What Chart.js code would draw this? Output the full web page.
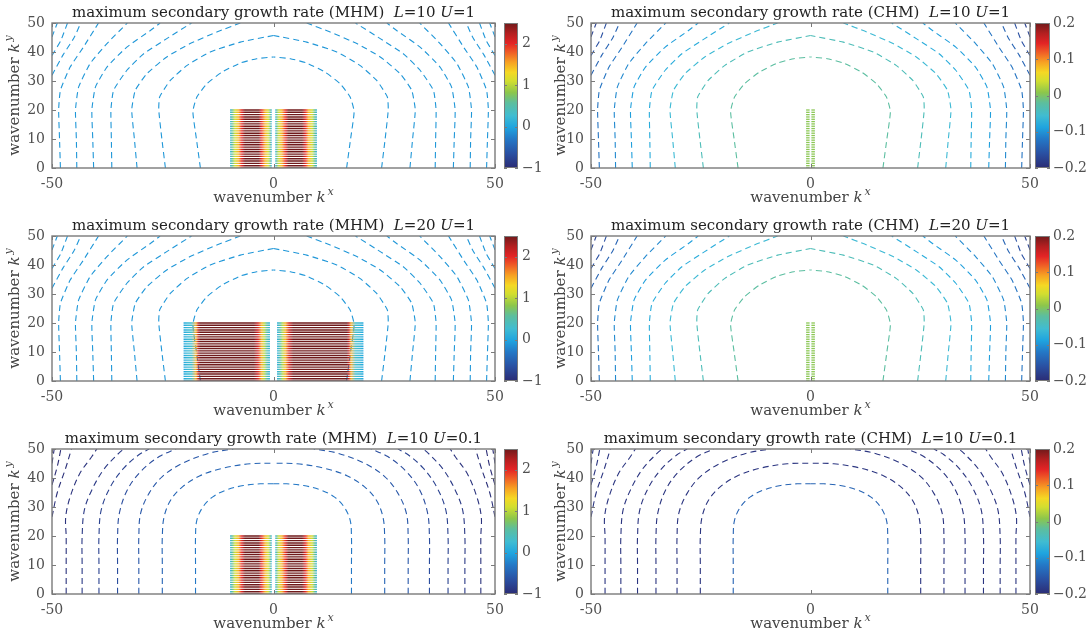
<!DOCTYPE html>
<html>
<head>
<meta charset="utf-8">
<script src="https://cdn.jsdelivr.net/npm/chart.js@4.4.1/dist/chart.umd.min.js"></script>
<style>
  html, body { margin: 0; padding: 0; background: #fff; overflow: hidden; }
  #wrap { position: relative; width: 1092px; height: 636px; }
  .panel { position: absolute; }
</style>
</head>
<body>
<div id="wrap"></div>
<script>
// ---- data ----
const kxTicks = [-50, 0, 50];
const kyTicks = [0, 10, 20, 30, 40, 50];
const mhmRange = [-1, 2.5];
const mhmBarTicks = [-1, 0, 1, 2];
const chmRange = [-0.2, 0.2];
const chmBarTicks = [-0.2, -0.1, 0, 0.1, 0.2];

const panelModel = ['MHM', 'CHM', 'MHM', 'CHM', 'MHM', 'CHM'];
const panelL = ['10', '10', '20', '20', '10', '10'];
const panelU = ['1', '1', '1', '1', '0.1', '0.1'];

// contour lines, left half (kx <= 0), innermost first; right half is the mirror
const contoursU1 = [
  [[-16.5, 0], [-17.4, 10], [-18.2, 19.5], [-17.3, 24.5], [-15, 29.1], [-11.6, 33.1], [-7.5, 36.2], [-3.8, 37.7], [0, 38.3]],
  [[-24.4, 0], [-25.2, 10], [-25.9, 20], [-25.7, 24.5], [-23.3, 30.2], [-19.5, 35.4], [-14.3, 40], [-7.5, 43.4], [0, 45.7]],
  [[-30.8, 0], [-31.4, 10], [-32, 20], [-31.2, 26.8], [-28.6, 32.5], [-24.1, 38.3], [-18.8, 42.9], [-12.8, 46.9], [-7.5, 50]],
  [[-36.5, 0], [-36.6, 10], [-36.7, 20], [-36.1, 26.8], [-33.1, 33.7], [-29.3, 39.4], [-24.1, 44.6], [-18.5, 50]],
  [[-40.6, 0], [-40.8, 10], [-41, 20], [-40.2, 27.9], [-37.6, 34.8], [-33.1, 41.7], [-27.8, 47.4], [-25.6, 50]],
  [[-44.4, 0], [-44.5, 10], [-44.7, 20], [-44, 27.9], [-41.4, 36], [-37.6, 42.9], [-33, 50]],
  [[-48.1, 0], [-48.3, 10], [-48.5, 20], [-48.1, 26.8], [-45.9, 34.8], [-42.9, 41.7], [-39.5, 50]],
  [[-50, 32], [-47.5, 39], [-45, 45], [-43.5, 50]],
  [[-50, 38.8], [-48, 44], [-46.5, 50]],
  [[-50, 45.2], [-48.8, 50]]
];
const contoursU01 = [
  [[-17.6, 0], [-17.6, 10], [-17.6, 19.7], [-17.3, 25.5], [-15.9, 30.1], [-13.7, 33.5], [-10.6, 35.9], [-6.8, 37.4], [-3, 38], [0, 38]],
  [[-25.1, 0], [-25.1, 10], [-25.1, 19.7], [-24.7, 26.6], [-23.2, 32.4], [-20.5, 37], [-16.7, 40.7], [-11.4, 43.4], [-5.3, 44.9], [0, 45.1]],
  [[-30.4, 0], [-30.4, 10], [-30.4, 19.7], [-30, 27.8], [-28.1, 34.7], [-25.1, 40.5], [-20.5, 45.1], [-14.4, 48.6], [-9.1, 50]],
  [[-35.2, 0], [-35.2, 10], [-35.2, 19.7], [-34.8, 27.8], [-33, 35.9], [-30, 42.2], [-25.8, 47.4], [-22, 50]],
  [[-39.4, 0], [-39.4, 10], [-39.4, 19.7], [-38.9, 28.9], [-36.8, 37], [-33.8, 43.4], [-30.4, 48], [-28.1, 50]],
  [[-43.2, 0], [-43.2, 10], [-43.2, 19.7], [-42.7, 28.9], [-41, 35.9], [-38.3, 43], [-34.9, 48.6], [-33.8, 50]],
  [[-46.8, 0], [-46.8, 10], [-46.8, 19.7], [-46.9, 26.6], [-45.9, 33.5], [-43.7, 41.6], [-41, 47.4], [-39.9, 50]],
  [[-50, 26.6], [-48.8, 35], [-47, 43], [-45.6, 50]],
  [[-50, 37.6], [-48.8, 44], [-48, 50]],
  [[-50, 45], [-49.5, 50]]
];

// contour levels in each panel's colour units (innermost first)
const levelsMhmU1 = [-0.1, -0.1, -0.1, -0.1, -0.1, -0.1, -0.1, -0.1, -0.1, -0.1];
const levelsChmU1 = [-0.022, -0.038, -0.06, -0.078, -0.092, -0.108, -0.124, -0.14, -0.16, -0.176];
const levelsMhmU01 = [-0.3, -0.47, -0.58, -0.68, -0.79, -0.86, -0.93, -0.96, -1, -1];
const levelsChmU01 = [-0.14, -0.19, -0.19, -0.19, -0.19, -0.19, -0.19, -0.19, -0.19, -0.19];

// growth-rate stripes: rows in ky, profile along kx (left block; right block mirrored)
const stripeKy = [0, 0.8, 1.6, 2.4, 3.2, 4, 4.8, 5.6, 6.4, 7.2, 8, 8.8, 9.6, 10.4, 11.2, 12,
  12.8, 13.6, 14.4, 15.2, 16, 16.8, 17.6, 18.4, 19.2, 20];
const mhmL10Kx = [-9.8, -9.3, -8.7, -7.9, -7.2, -6.4, -5, -3.4, -2.7, -1.9, -1.2, -0.4];
const mhmL10Rate = [0.1, 0.6, 1.1, 1.5, 2.0, 2.5, 2.5, 2.5, 2.0, 1.5, 1.1, 0.1];
const mhmL20Kx = [-20.3, -19.5, -18.5, -17.5, -17, -16.5, -10, -4.5, -3.5, -2.7, -2.1, -1.5, -0.8];
const mhmL20Rate = [0, 0.2, 0.3, 1.5, 2.2, 2.5, 2.5, 2.5, 2.1, 1.5, 1.0, 0.5, 0.1];
const chmKx = [-1.0, -0.6, -0.2];
const chmRate = [0.0, 0.012, 0.0];

// ---- styling ----
const serif = '"DejaVu Serif", serif';
const cmapStops = [[0, '#2b2c74'], [0.1, '#2a50a2'], [0.2, '#2478c6'], [0.28, '#1fa4df'], [0.36, '#40bcd2'],
  [0.45, '#5dbe9d'], [0.52, '#8cc64c'], [0.6, '#d2de30'], [0.66, '#f5d824'], [0.73, '#f7a023'],
  [0.8, '#ef5b26'], [0.86, '#e32425'], [0.93, '#b21f20'], [1, '#6f1a1b']];
const boxColor = '#7a7a7a';
const tickColor = '#505050';

function hexRgb(h) {
  return [parseInt(h.slice(1, 3), 16), parseInt(h.slice(3, 5), 16), parseInt(h.slice(5, 7), 16)];
}
function cmap(p) {
  p = Math.max(0, Math.min(1, p));
  for (let i = 1; i < cmapStops.length; i++) {
    if (p <= cmapStops[i][0]) {
      const [p0, c0] = cmapStops[i - 1], [p1, c1] = cmapStops[i];
      const t = (p - p0) / (p1 - p0), a = hexRgb(c0), b = hexRgb(c1);
      return 'rgb(' + a.map((v, k) => Math.round(v + (b[k] - v) * t)).join(',') + ')';
    }
  }
  return cmapStops[cmapStops.length - 1][1];
}
function fmtMinus(v) {
  return v < 0 ? '\u2212' + String(Math.abs(v)) : String(v);
}

const colGeom = [
  { left: 0, yW: 52, cbW: 51, gap: 9, cbWidth: 14, cbPad: 27 },
  { left: 546, yW: 45, cbW: 62, gap: 5, cbWidth: 15, cbPad: 23 }
];

function fontOf(p, size) {
  return (p.it ? 'italic ' : '') + (p.sup ? Math.round(size * 0.72) : size) + 'px ' + serif;
}
function richWidth(ctx, parts, size) {
  let w = 0;
  parts.forEach(p => { ctx.font = fontOf(p, size); w += ctx.measureText(p.t).width + (p.dx || 0); });
  return w;
}
function drawRich(ctx, parts, x, y, size) {
  parts.forEach(p => {
    ctx.font = fontOf(p, size);
    x += p.dx || 0;
    ctx.fillText(p.t, x, y - (p.sup ? size * 0.45 : 0));
    x += ctx.measureText(p.t).width;
  });
}

function stripeDatasets(kx, rate, range, width) {
  const sets = [];
  const blocks = [
    { kx: kx, rate: rate },
    { kx: kx.map(v => -v).reverse(), rate: rate.slice().reverse() }
  ];
  blocks.forEach(b => {
    let cache = null;
    const color = (c) => {
      const chart = c.chart;
      if (!chart.chartArea || !chart.scales.x) return cmap(0.5);
      if (cache) return cache;
      const xs = chart.scales.x;
      const x0 = xs.getPixelForValue(b.kx[0]), x1 = xs.getPixelForValue(b.kx[b.kx.length - 1]);
      const g = chart.ctx.createLinearGradient(x0, 0, x1, 0);
      b.kx.forEach((k, j) => {
        g.addColorStop((xs.getPixelForValue(k) - x0) / (x1 - x0), cmap((b.rate[j] - range[0]) / (range[1] - range[0])));
      });
      cache = g;
      return g;
    };
    stripeKy.forEach(ky => {
      sets.push({
        data: [{ x: b.kx[0], y: ky }, { x: b.kx[b.kx.length - 1], y: ky }],
        borderColor: color, borderWidth: width, borderCapStyle: 'butt',
        pointRadius: 0, fill: false, order: 0
      });
    });
  });
  return sets;
}

function contourDatasets(lines, levels, range, tension) {
  const sets = [];
  lines.forEach((line, i) => {
    const col = cmap((levels[i] - range[0]) / (range[1] - range[0]));
    [line, line.map(([x, y]) => [-x, y])].forEach(half => {
      sets.push({
        data: half.map(([x, y]) => ({ x, y })),
        borderColor: col, borderWidth: 1.1, borderDash: [6, 4],
        pointRadius: 0, fill: false, tension: tension, order: 1
      });
    });
  });
  return sets;
}

const wrap = document.getElementById('wrap');

for (let i = 0; i < 6; i++) {
  const row = Math.floor(i / 2), col = i % 2;
  const g = colGeom[col];
  const isMhm = panelModel[i] === 'MHM';
  const range = isMhm ? mhmRange : chmRange;
  const barTicks = isMhm ? mhmBarTicks : chmBarTicks;
  const isU1 = panelU[i] === '1';
  const levels = isMhm ? (isU1 ? levelsMhmU1 : levelsMhmU01) : (isU1 ? levelsChmU1 : levelsChmU01);

  let datasets = contourDatasets(isU1 ? contoursU1 : contoursU01, levels, range, isU1 ? 0.15 : 0.35);
  if (isMhm) {
    datasets = datasets.concat(panelL[i] === '20'
      ? stripeDatasets(mhmL20Kx, mhmL20Rate, range, 1.4)
      : stripeDatasets(mhmL10Kx, mhmL10Rate, range, 1.4));
  } else if (isU1) {
    datasets = datasets.concat(stripeDatasets(chmKx, chmRate, range, 1.3));
  }

  const div = document.createElement('div');
  div.className = 'panel';
  div.style.left = g.left + 'px';
  div.style.top = (row * 213) + 'px';
  const cv = document.createElement('canvas');
  cv.width = 546; cv.height = 213;
  cv.style.width = '546px'; cv.style.height = '213px';
  div.appendChild(cv);
  wrap.appendChild(div);

  const titleParts = [
    { t: 'maximum secondary growth rate (' + panelModel[i] + ')  ' },
    { t: 'L', it: true }, { t: '=' + panelL[i] + ' ' },
    { t: 'U', it: true }, { t: '=' + panelU[i] }
  ];

  const decor = {
    id: 'decor' + i,
    afterDraw(chart) {
      const ctx = chart.ctx, a = chart.chartArea;
      const xs = chart.scales.x, ys = chart.scales.y, cb = chart.scales.cb;
      ctx.save();
      // colour bar
      const cx0 = a.right + g.gap;
      const cTop = cb.getPixelForValue(range[1]), cBot = cb.getPixelForValue(range[0]);
      const grad = ctx.createLinearGradient(0, cBot, 0, cTop);
      cmapStops.forEach(s => grad.addColorStop(s[0], s[1]));
      ctx.fillStyle = grad;
      ctx.fillRect(cx0, cTop, g.cbWidth, cBot - cTop);
      ctx.strokeStyle = boxColor;
      ctx.lineWidth = 1;
      ctx.strokeRect(cx0 + 0.5, cTop + 0.5, g.cbWidth - 1, cBot - cTop - 1);
      ctx.beginPath();
      barTicks.forEach(v => {
        const py = Math.round(cb.getPixelForValue(v)) + 0.5;
        ctx.moveTo(cx0, py); ctx.lineTo(cx0 + 3, py);
        ctx.moveTo(cx0 + g.cbWidth - 3, py); ctx.lineTo(cx0 + g.cbWidth, py);
      });
      ctx.stroke();
      // axes box + inward ticks
      ctx.lineWidth = 1.4;
      ctx.strokeRect(a.left, a.top, a.right - a.left, a.bottom - a.top);
      ctx.lineWidth = 1;
      ctx.beginPath();
      kyTicks.forEach(v => {
        const py = Math.round(ys.getPixelForValue(v)) + 0.5;
        ctx.moveTo(a.left, py); ctx.lineTo(a.left + 4, py);
        ctx.moveTo(a.right - 4, py); ctx.lineTo(a.right, py);
      });
      kxTicks.forEach(v => {
        const px = Math.round(xs.getPixelForValue(v)) + 0.5;
        ctx.moveTo(px, a.bottom); ctx.lineTo(px, a.bottom - 4);
        ctx.moveTo(px, a.top); ctx.lineTo(px, a.top + 4);
      });
      ctx.stroke();
      // title
      const mid = (a.left + a.right) / 2;
      ctx.fillStyle = '#222';
      ctx.textBaseline = 'alphabetic';
      ctx.textAlign = 'left';
      const tw = richWidth(ctx, titleParts, 15);
      drawRich(ctx, titleParts, mid - tw / 2, 17, 15);
      // x label
      const xl = [{ t: 'wavenumber ' }, { t: 'k', it: true }, { t: 'x', it: true, sup: true, dx: 2 }];
      ctx.fillStyle = '#444';
      const xw = richWidth(ctx, xl, 15);
      drawRich(ctx, xl, mid - xw / 2, 202, 15);
      // y label
      const yl = [{ t: 'wavenumber ' }, { t: 'k', it: true }, { t: 'y', it: true, sup: true, dx: 2 }];
      const yw = richWidth(ctx, yl, 15);
      ctx.translate(19, (a.top + a.bottom) / 2);
      ctx.rotate(-Math.PI / 2);
      drawRich(ctx, yl, -yw / 2, 0, 15);
      ctx.restore();
    }
  };

  const noPadV = s => { s.paddingTop = 0; s.paddingBottom = 0; };

  new Chart(cv, {
    type: 'line',
    data: { datasets },
    options: {
      responsive: false,
      animation: false,
      devicePixelRatio: 1,
      events: [],
      layout: { padding: { top: 23, left: 0, right: 0, bottom: 0 } },
      plugins: { legend: { display: false }, tooltip: { enabled: false } },
      scales: {
        x: {
          type: 'linear', min: -50, max: 50,
          afterBuildTicks: s => { s.ticks = kxTicks.map(v => ({ value: v })); },
          afterFit: s => { s.height = 45; s.paddingLeft = 0; s.paddingRight = 0; },
          grid: { display: false, drawTicks: false }, border: { display: false },
          ticks: { padding: 8, maxRotation: 0, autoSkip: false, color: tickColor,
            font: { family: serif, size: 14 }, callback: v => String(v) }
        },
        y: {
          type: 'linear', min: 0, max: 50,
          afterBuildTicks: s => { s.ticks = kyTicks.map(v => ({ value: v })); },
          afterFit: s => { s.width = g.yW; noPadV(s); },
          grid: { display: false, drawTicks: false }, border: { display: false },
          ticks: { padding: 7, autoSkip: false, color: tickColor,
            font: { family: serif, size: 14 }, callback: v => String(v) }
        },
        cb: {
          type: 'linear', position: 'right', min: range[0], max: range[1],
          afterBuildTicks: s => { s.ticks = barTicks.map(v => ({ value: v })); },
          afterFit: s => { s.width = g.cbW; noPadV(s); },
          grid: { display: false, drawTicks: false }, border: { display: false },
          ticks: { padding: g.cbPad, autoSkip: false, color: tickColor,
            font: { family: serif, size: 14 }, callback: v => fmtMinus(v) }
        }
      }
    },
    plugins: [decor]
  });
}
</script>
</body>
</html>
